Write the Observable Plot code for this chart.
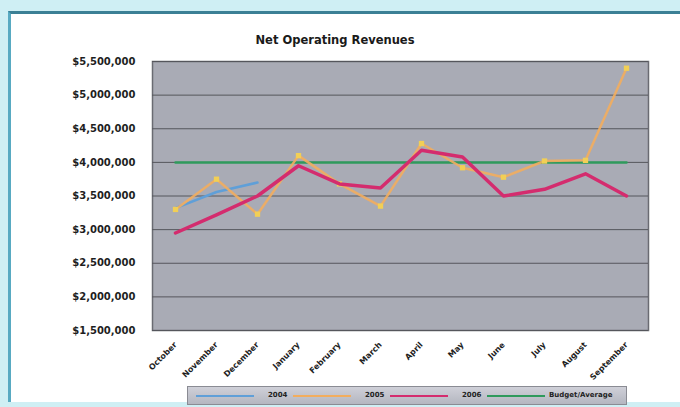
<!DOCTYPE html>
<html>
<head>
<meta charset="utf-8">
<script src="https://cdn.jsdelivr.net/npm/d3@7"></script>
<script src="https://cdn.jsdelivr.net/npm/@observablehq/plot@0.6"></script>
<style>
  html, body { margin: 0; padding: 0; }
  body { width: 680px; height: 407px; background: #cfeff4; position: relative; overflow: hidden; font-family: "DejaVu Sans", sans-serif; }
  #panel { position: absolute; left: 8px; top: 11px; width: 680px; height: 388px; background: #ffffff; border-top: 3px solid #3b8095; border-left: 3px solid #58aac2; }
  #title { position: absolute; left: 0; width: 670px; top: 33px; text-align: center; font-weight: bold; font-size: 11.5px; color: #1a1a1a; }
  #chart { position: absolute; left: 0; top: 0; }
  #legend { position: absolute; left: 187px; top: 386px; width: 440px; height: 19px; background: linear-gradient(#cfd0d8, #b4b6c0); border: 1px solid #8a8b93; box-sizing: border-box; }
  .item { position: absolute; top: 0; height: 17px; }
  .item span { position: absolute; top: 4px; font-size: 7px; font-weight: bold; color: #222; white-space: nowrap; }
</style>
</head>
<body>
<div id="panel"></div>
<div id="title">Net Operating Revenues</div>
<div id="chart"></div>
<div id="legend"></div>
<script>
const months = ["October","November","December","January","February","March","April","May","June","July","August","September"];
const seriesNames = ["2004", "2005", "2006", "Budget/Average"];
const seriesColors = ["#5f9fd8", "#f2ad5e", "#d42c6e", "#2f9a5c"];
const values2004 = [3320000, 3560000, 3700000, null, null, null, null, null, null, null, null, null];
const values2005 = [3300000, 3750000, 3230000, 4100000, 3680000, 3350000, 4280000, 3920000, 3780000, 4020000, 4030000, 5400000];
const values2006 = [2950000, 3220000, 3500000, 3950000, 3680000, 3620000, 4180000, 4080000, 3500000, 3600000, 3830000, 3500000];
const valuesBudget = [4000000, 4000000, 4000000, 4000000, 4000000, 4000000, 4000000, 4000000, 4000000, 4000000, 4000000, 4000000];
const yTicks = [1500000, 2000000, 2500000, 3000000, 3500000, 4000000, 4500000, 5000000, 5500000];

const allSeries = [values2004, values2005, values2006, valuesBudget];
const rows = [];
allSeries.forEach((vals, si) => {
  vals.forEach((v, i) => rows.push({series: seriesNames[si], month: months[i], value: v}));
});
const byName = n => rows.filter(d => d.series === n);
const fmt = d => "$" + d3.format(",")(d);

const chart = Plot.plot({
  width: 680,
  height: 407,
  marginLeft: 152,
  marginRight: 32,
  marginTop: 61,
  marginBottom: 77,
  style: {background: "transparent", fontFamily: "DejaVu Sans, sans-serif", color: "#1e1e1e"},
  x: {type: "point", domain: months, padding: 0.5},
  y: {domain: [1500000, 5500000]},
  marks: [
    Plot.frame({fill: "#a9abb5", stroke: "#6a6b72", strokeWidth: 1.5}),
    Plot.ruleY(yTicks, {stroke: "#55565c", strokeWidth: 1}),
    Plot.axisY({ticks: yTicks, tickFormat: fmt, tickSize: 0, tickPadding: 17, fontSize: 10, fontWeight: "bold", label: null}),
    Plot.axisX({tickRotate: -45, tickSize: 0, tickPadding: 13, fontSize: 8, fontWeight: "bold", label: null}),
    Plot.line(byName(seriesNames[3]), {x: "month", y: "value", stroke: seriesColors[3], strokeWidth: 2.5}),
    Plot.line(byName(seriesNames[0]), {x: "month", y: "value", stroke: seriesColors[0], strokeWidth: 2.5}),
    Plot.line(byName(seriesNames[1]), {x: "month", y: "value", stroke: seriesColors[1], strokeWidth: 2.5, strokeOpacity: 0.9}),
    Plot.dot(byName(seriesNames[1]), {x: "month", y: "value", fill: "#f2cf55", r: 3, symbol: "square"}),
    Plot.line(byName(seriesNames[2]), {x: "month", y: "value", stroke: seriesColors[2], strokeWidth: 3.5})
  ]
});
document.getElementById("chart").appendChild(chart);

const legend = document.getElementById("legend");
seriesNames.forEach((name, i) => {
  const item = document.createElement("div");
  item.className = "item";
  item.style.left = (6 + i * 97) + "px";
  item.innerHTML = `<svg width="62" height="17" style="position:absolute;left:0;top:0"><line x1="2" x2="60" y1="9" y2="9" stroke="${seriesColors[i]}" stroke-width="2"/></svg><span style="left:${i === 3 ? 64 : 74}px">${name}</span>`;
  legend.appendChild(item);
});
</script>
</body>
</html>
